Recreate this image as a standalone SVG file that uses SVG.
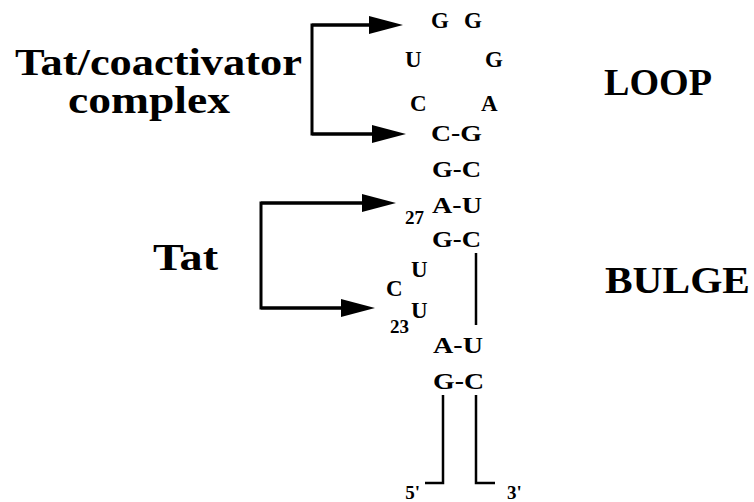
<svg xmlns="http://www.w3.org/2000/svg" width="754" height="502" viewBox="0 0 754 502">
<defs>
<style>
text{font-family:"Liberation Serif","Times New Roman",serif;font-weight:bold;fill:#000}
.lab{font-size:38px}
.big{font-size:37px}
.nt{font-size:23px}
.num{font-size:19px}
.br{fill:none;stroke:#000;stroke-width:3}
.st{fill:none;stroke:#000;stroke-width:2.5}
</style>
<marker id="ah" markerUnits="userSpaceOnUse" markerWidth="34" markerHeight="18" refX="24" refY="9" orient="auto">
<path d="M0,0 L34,9 L0,18 Z" fill="#000"/>
</marker>
</defs>
<rect width="754" height="502" fill="#fff"/>
<g id="connectors">
<path class="br" d="M393,25 H312 V134 H396"/>
<path class="br" d="M312,25 H393" marker-end="url(#ah)"/>
<path class="br" d="M312,134 H396" marker-end="url(#ah)"/>
<path class="br" d="M386,203 H261 V308 H365"/>
<path class="br" d="M261,203 H386" marker-end="url(#ah)"/>
<path class="br" d="M261,308 H365" marker-end="url(#ah)"/>
<path class="st" d="M476,253 V325"/>
<path class="st" d="M425,483 H443 V395"/>
<path class="st" d="M495,483 H476 V395"/>
</g>
<g id="label-tat-coactivator">
<text class="lab" x="15" y="75" textLength="287" lengthAdjust="spacingAndGlyphs">Tat/coactivator</text>
<text class="lab" x="68" y="113" textLength="162" lengthAdjust="spacingAndGlyphs">complex</text>
</g>
<g id="label-tat"><text class="lab" x="153" y="270" textLength="65" lengthAdjust="spacingAndGlyphs">Tat</text></g>
<g id="label-loop"><text class="big" x="604" y="95" textLength="108" lengthAdjust="spacingAndGlyphs">LOOP</text></g>
<g id="label-bulge"><text class="big" x="605" y="293" textLength="145" lengthAdjust="spacingAndGlyphs">BULGE</text></g>
<g id="loop-bases">
<text class="nt" x="431" y="28">G</text>
<text class="nt" x="464" y="28">G</text>
<text class="nt" x="405" y="67">U</text>
<text class="nt" x="485" y="67">G</text>
<text class="nt" x="410" y="111">C</text>
<text class="nt" x="481" y="111">A</text>
</g>
<g id="stem-upper">
<text class="nt" x="431" y="141" textLength="51" lengthAdjust="spacingAndGlyphs">C-G</text>
<text class="nt" x="432" y="177" textLength="49" lengthAdjust="spacingAndGlyphs">G-C</text>
<text class="num" x="405" y="224">27</text>
<text class="nt" x="432" y="213" textLength="50" lengthAdjust="spacingAndGlyphs">A-U</text>
<text class="nt" x="432" y="247" textLength="49" lengthAdjust="spacingAndGlyphs">G-C</text>
</g>
<g id="bulge-bases">
<text class="nt" x="411" y="277">U</text>
<text class="nt" x="386" y="296">C</text>
<text class="nt" x="411" y="318">U</text>
<text class="num" x="390" y="333">23</text>
</g>
<g id="stem-lower">
<text class="nt" x="433" y="353" textLength="50" lengthAdjust="spacingAndGlyphs">A-U</text>
<text class="nt" x="433" y="389" textLength="51" lengthAdjust="spacingAndGlyphs">G-C</text>
</g>
<g id="ends">
<text class="num" x="420" y="499" text-anchor="end">5'</text>
<text class="num" x="507" y="499">3'</text>
</g>
</svg>
